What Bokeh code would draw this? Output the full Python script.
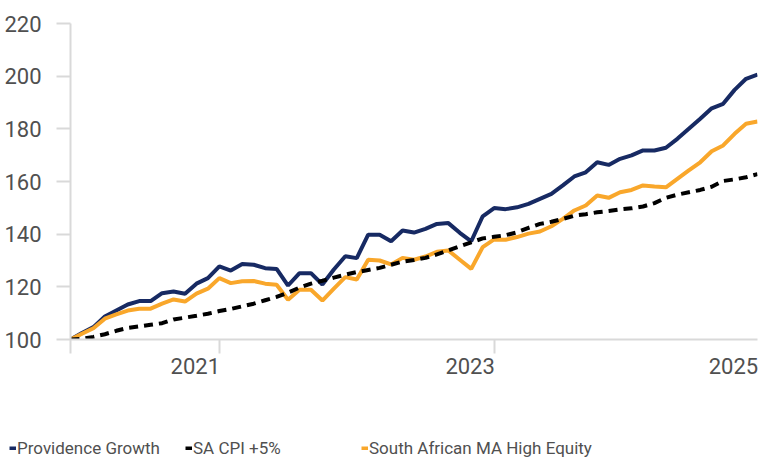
import pandas as pd
from bokeh.plotting import figure
from bokeh.layouts import column
from bokeh.models import Range1d, FixedTicker, Legend, LegendItem
from bokeh.embed import file_html
from bokeh.resources import INLINE

# ---------------- data ----------------
months = pd.period_range("2019-12", "2024-12", freq="M").astype(str).tolist()

providence = [100.0, 102.5, 104.7, 108.7, 111.0, 113.3, 114.6, 114.6, 117.6, 118.2,
              117.4, 121.2, 123.3, 127.8, 126.2, 128.7, 128.4, 127.1, 126.8, 120.5,
              125.2, 125.2, 120.9, 126.6, 131.6, 130.9, 139.8, 139.8, 137.3, 141.4,
              140.6, 142.0, 143.9, 144.2, 140.5, 137.3, 146.8, 149.9, 149.5, 150.2,
              151.5, 153.4, 155.3, 158.5, 161.9, 163.5, 167.3, 166.3, 168.6, 169.9,
              171.8, 171.8, 172.8, 176.2, 180.0, 183.8, 187.8, 189.5, 194.8, 199.0,
              200.6]

cpi = [100.0, 100.3, 101.0, 102.0, 103.3, 104.4, 105.0, 105.6, 106.2, 107.6,
       108.3, 109.0, 109.8, 110.8, 111.6, 112.6, 113.6, 114.9, 116.2, 117.8,
       119.7, 121.2, 122.3, 123.5, 124.6, 125.6, 126.4, 127.2, 128.4, 129.6,
       130.2, 131.0, 132.3, 133.8, 135.4, 136.9, 138.4, 139.0, 139.6, 140.7,
       142.4, 143.9, 144.7, 145.8, 147.0, 147.6, 148.3, 148.8, 149.4, 149.8,
       150.5, 151.8, 153.8, 155.0, 155.9, 156.8, 158.0, 160.2, 160.8, 161.6,
       162.8]

sa_ma_high_equity = [100.0, 102.2, 104.3, 107.9, 109.5, 111.0, 111.7, 111.7, 113.6, 115.2,
                     114.4, 117.4, 119.3, 123.3, 121.4, 122.1, 122.2, 121.2, 120.8, 115.1,
                     118.9, 118.9, 114.8, 119.3, 123.7, 122.8, 130.3, 130.0, 128.5, 131.0,
                     130.3, 131.5, 133.3, 133.8, 130.3, 126.8, 135.1, 138.0, 137.9, 138.9,
                     140.2, 141.0, 143.0, 145.8, 149.0, 150.9, 154.7, 153.8, 155.9, 156.8,
                     158.5, 158.1, 157.8, 161.0, 164.2, 167.3, 171.5, 173.7, 178.1, 181.9,
                     182.8]

series_names = ["Providence Growth", "SA CPI +5%", "South African MA High Equity"]
y_ticks = [100, 120, 140, 160, 180, 200, 220]
year_labels = ["2021", "2023", "2025"]
year_months = ["2021-01", "2023-01", "2025-01"]

# ---------------- style ----------------
FONT = "Roboto"
TXT = "#505050"
AXIS = "#d9d9d9"
NAVY = "#172a63"
ORANGE = "#f9a72b"
STYLES = [dict(line_color=NAVY, line_width=4),
          dict(line_color="black", line_width=4, line_dash="9 6"),
          dict(line_color=ORANGE, line_width=4)]

x = list(range(len(months)))
last = len(months) - 1

p = figure(width=758, height=408, output_backend="svg", toolbar_location=None,
           x_range=Range1d(0, last), y_range=Range1d(y_ticks[0], y_ticks[-1]),
           min_border_left=70, min_border_right=1, min_border_top=23, min_border_bottom=69)
p.frame_align = False
p.outline_line_color = None
p.xgrid.visible = False
p.ygrid.visible = False

# y axis
p.yaxis.ticker = FixedTicker(ticks=y_ticks)
p.yaxis.axis_line_color = AXIS
p.yaxis.axis_line_width = 2
p.yaxis.major_tick_line_color = AXIS
p.yaxis.major_tick_line_width = 2
p.yaxis.major_tick_out = 14
p.yaxis.major_tick_in = 0
p.yaxis.minor_tick_line_color = None
p.yaxis.major_label_standoff = 15
p.yaxis.major_label_text_font = FONT
p.yaxis.major_label_text_font_size = "22px"
p.yaxis.major_label_text_color = TXT

# x axis: visible tick marks (minor ticks) at the start and January of labelled years;
# year labels (major ticks, marks hidden) sit just left of their January tick
tick_idx = [months.index(m) if m in months else last + 1 for m in year_months]
label_shift = 2.1
label_x = [min(t, last) - label_shift for t in tick_idx]
p.xaxis.ticker = FixedTicker(ticks=label_x, minor_ticks=[0] + [t for t in tick_idx if t <= last])
p.xaxis.major_label_overrides = {lx: lab for lx, lab in zip(label_x, year_labels)}
p.xaxis.axis_line_color = AXIS
p.xaxis.axis_line_width = 2
p.xaxis.major_tick_line_color = None
p.xaxis.major_tick_out = 14
p.xaxis.major_tick_in = 0
p.xaxis.minor_tick_line_color = AXIS
p.xaxis.minor_tick_line_width = 2
p.xaxis.minor_tick_out = 14
p.xaxis.minor_tick_in = 0
p.xaxis.major_label_standoff = 4
p.xaxis.major_label_text_font = FONT
p.xaxis.major_label_text_font_size = "22px"
p.xaxis.major_label_text_color = TXT

# lines (CPI drawn on top)
p.line(x, providence, **STYLES[0])
p.line(x, sa_ma_high_equity, **STYLES[2])
p.line(x, cpi, **STYLES[1])

# legend strip below the chart (placeholder renderers only supply the legend swatches)
lf = figure(width=758, height=54, output_backend="svg", toolbar_location=None,
            x_range=Range1d(0, 1), y_range=Range1d(0, 1),
            x_axis_location=None, y_axis_location=None,
            min_border_left=0, min_border_right=0, min_border_top=0, min_border_bottom=0)
lf.frame_align = False
lf.outline_line_color = None
lf.xgrid.visible = False
lf.ygrid.visible = False
items = []
for name, st in zip(series_names, STYLES):
    r = lf.line(x=[float("nan")], y=[float("nan")], **st)
    items.append(LegendItem(label=name, renderers=[r]))
lg = Legend(items=items, location=(9, 4), orientation="horizontal",
            glyph_width=7, glyph_height=4, label_standoff=1, label_width=168,
            padding=0, margin=0, spacing=0,
            border_line_color=None, background_fill_alpha=0,
            label_text_font=FONT, label_text_font_size="17px",
            label_text_color=TXT, label_height=20)
lf.add_layout(lg, "center")

open("out.html", "w").write(file_html(column(p, lf), INLINE))
